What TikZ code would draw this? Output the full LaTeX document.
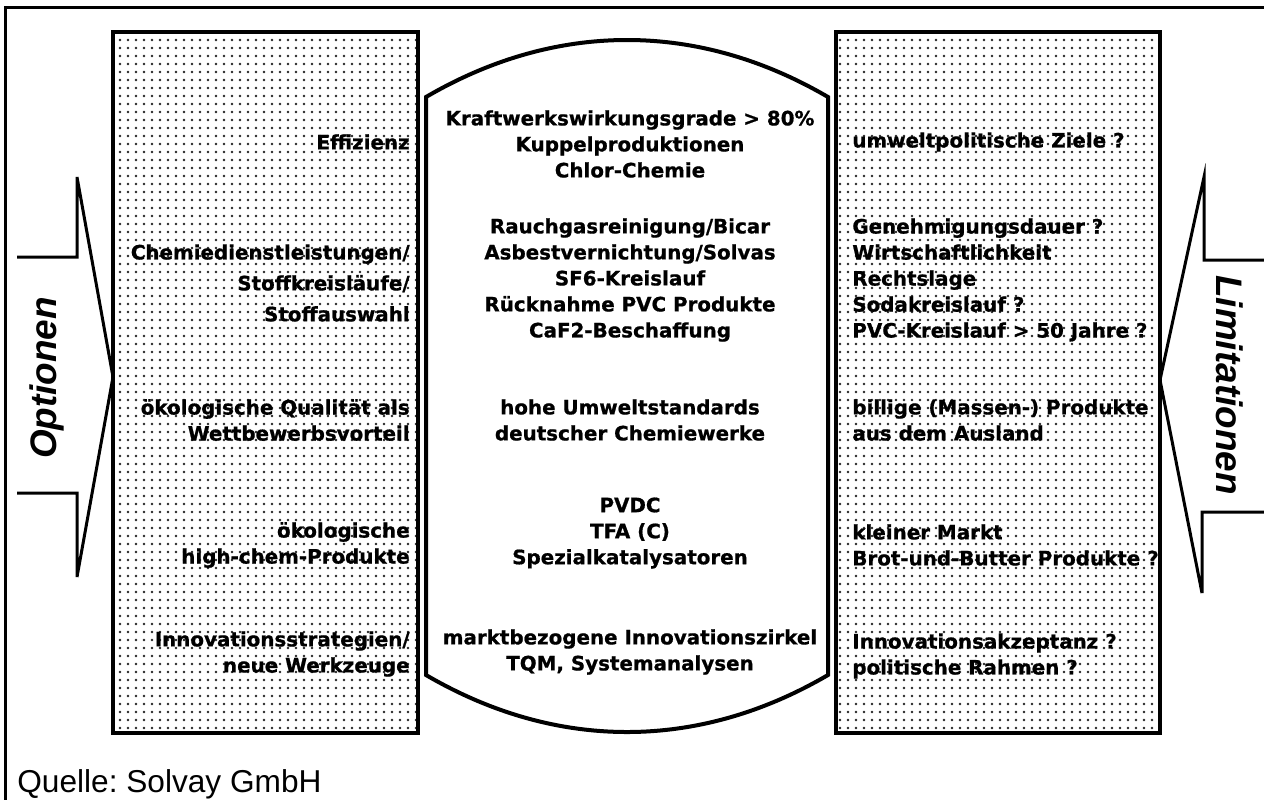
\documentclass[tikz,border=0pt]{standalone}
\usepackage{fontspec}
\setmainfont{DejaVu Sans}
\newfontfamily\dickfont[FakeBold=0.8]{DejaVu Sans Bold}
\newfontfamily\arialfont{Liberation Sans}
\usetikzlibrary{patterns.meta}
\frenchspacing

\begin{document}
\begin{tikzpicture}[x=0.2mm,y=-0.2mm,
  feld/.style={line width=0.8mm,pattern={Dots[distance=1.6mm,radius=0.27mm]},pattern color=black!85},
  eintrag/.style={font=\dickfont\fontsize{11.3}{14.8}\selectfont,inner sep=0pt},
  links/.style={eintrag,anchor=east,align=right},
  mitte/.style={eintrag,align=center},
  rechts/.style={eintrag,anchor=west,align=left},
  pfeil/.style={line width=0.6mm},
  seite/.style={font=\arialfont\bfseries\itshape\fontsize{21}{25}\selectfont,inner sep=0pt}]
\useasboundingbox (0,0) rectangle (1264,800);
\draw[line width=0.6mm] (1264,7) -- (5,7) -- (5,800);
% Felder und Linse
\draw[feld] (113,32) rectangle (418,733);
\draw[feld] (836,32) rectangle (1160,733);
\draw[line width=0.8mm] (426,97) .. controls (556,21) and (698,21) .. (828,97) -- (828,675)
  .. controls (698,751) and (556,751) .. (426,675) -- cycle;
% Pfeile
\draw[pfeil] (17,257) -- (77,257) -- (77,177) -- (113,377) -- (77,577) -- (77,493) -- (17,493);
\draw[pfeil] (1264,260) -- (1204,260) -- (1204,177) -- (1160,380) -- (1202,593) -- (1202,512) -- (1264,512);
\node[seite,rotate=90] (optionen) at (47,378) {Optionen};
\node[seite,rotate=-90] (limitationen) at (1230,385) {Limitationen};
% linke Spalte
\node[links] (effizienz) at (410,142) {Effizienz};
\node[links,font=\dickfont\fontsize{11.3}{17.6}\selectfont] (stoffe) at (410,283) {Chemiedienstleistungen/\\Stoffkreisläufe/\\Stoffauswahl};
\node[links] (qualitaet) at (410,420) {ökologische Qualität als\\Wettbewerbsvorteil};
\node[links] (highchem) at (410,545) {ökologische\\high-chem-Produkte};
\node[links] (innovation) at (410,654) {Innovationsstrategien/\\neue Werkzeuge};
% Mitte
\node[mitte] (kraftwerk) at (630,144) {Kraftwerkswirkungsgrade > 80\%\\Kuppelproduktionen\\Chlor-Chemie};
\node[mitte] (rauchgas) at (630,280) {Rauchgasreinigung/Bicar\\Asbestvernichtung/Solvas\\SF6-Kreislauf\\Rücknahme PVC Produkte\\CaF2-Beschaffung};
\node[mitte] (standards) at (630,420) {hohe Umweltstandards\\deutscher Chemiewerke};
\node[mitte] (pvdc) at (630,533) {PVDC\\TFA (C)\\Spezialkatalysatoren};
\node[mitte] (zirkel) at (630,652) {marktbezogene Innovationszirkel\\TQM, Systemanalysen};
% rechte Spalte
\node[rechts] (ziele) at (852,142) {umweltpolitische Ziele ?};
\node[rechts] (genehmigung) at (852,280) {Genehmigungsdauer ?\\Wirtschaftlichkeit\\Rechtslage\\Sodakreislauf ?\\PVC-Kreislauf > 50 Jahre ?};
\node[rechts] (ausland) at (852,420) {billige (Massen-) Produkte\\aus dem Ausland};
\node[rechts] (markt) at (852,545) {kleiner Markt\\Brot-und-Butter Produkte ?};
\node[rechts] (akzeptanz) at (852,656) {Innovationsakzeptanz ?\\politische Rahmen ?};
\node[font=\arialfont\fontsize{18}{22}\selectfont,anchor=base west,inner sep=0pt] (quelle) at (17,792) {Quelle: Solvay GmbH};
\end{tikzpicture}
\end{document}
